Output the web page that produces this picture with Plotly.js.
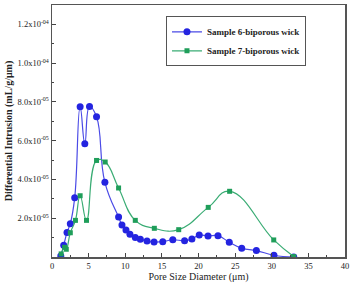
<!DOCTYPE html>
<html>
<head>
<meta charset="utf-8">
<script src="https://cdn.plot.ly/plotly-3.0.1.min.js"></script>
<style>html,body{margin:0;padding:0;background:#fff}#chart{width:352px;height:283px}</style>
</head>
<body>
<div id="chart"></div>
<script>
// Sample 6-biporous wick
const s6Name = "Sample 6-biporous wick";
const s6X = [1.2, 1.6, 2.05, 2.5, 3.1, 3.84, 4.48, 5.12, 6.08, 7.22, 9.09, 9.55, 10.1, 10.64, 11.37, 12.06, 12.97, 13.93, 15.12, 16.49, 18.1, 19.1, 20.1, 21.3, 22.66, 24.2, 25.9, 27.9, 30.3, 33.0];
const s6Y = [0.05e-5, 0.6e-5, 1.27e-5, 1.72e-5, 3.06e-5, 7.75e-5, 5.84e-5, 7.77e-5, 7.23e-5, 3.85e-5, 2.06e-5, 1.65e-5, 1.39e-5, 1.17e-5, 1.0e-5, 0.91e-5, 0.82e-5, 0.77e-5, 0.79e-5, 0.89e-5, 0.84e-5, 0.93e-5, 1.14e-5, 1.08e-5, 1.10e-5, 0.76e-5, 0.45e-5, 0.33e-5, 0.09e-5, 0.0];
// Sample 7-biporous wick
const s7Name = "Sample 7-biporous wick";
const s7X = [1.25, 1.72, 1.95, 2.5, 3.2, 3.84, 4.71, 6.08, 7.26, 9.09, 11.37, 13.97, 17.3, 21.33, 24.25, 30.27, 33.0];
const s7Y = [0.16e-5, 0.5e-5, 0.4e-5, 1.25e-5, 1.89e-5, 3.16e-5, 1.89e-5, 4.98e-5, 4.9e-5, 3.56e-5, 1.89e-5, 1.48e-5, 1.41e-5, 2.56e-5, 3.39e-5, 0.88e-5, 0.02e-5];
// Axis ticks
const yTickVals = [2e-5, 4e-5, 6e-5, 8e-5, 1.0e-4, 1.2e-4];
const yTickText = ["2.0x10<sup>-05</sup>", "4.0x10<sup>-05</sup>", "6.0x10<sup>-05</sup>", "8.0x10<sup>-05</sup>", "1.0x10<sup>-04</sup>", "1.2x10<sup>-04</sup>"];
const xTickVals = [0, 5, 10, 15, 20, 25, 30, 35, 40];

const blue = "#2424e0", blueLine = "#4a4ae6";
const green = "#1f9e5a", greenLine = "#3aac74";
const serif = "Liberation Serif, Times New Roman, serif";

const traces = [
  {x: s6X, y: s6Y, name: s6Name, type: "scatter", mode: "lines+markers",
   line: {color: blueLine, width: 1.2, shape: "spline", smoothing: 1.3},
   marker: {color: blue, size: 7, symbol: "circle"}},
  {x: s7X, y: s7Y, name: s7Name, type: "scatter", mode: "lines+markers",
   line: {color: greenLine, width: 1.2, shape: "spline", smoothing: 1.3},
   marker: {color: green, size: 5, symbol: "square"}}
];

const layout = {
  width: 352, height: 283,
  margin: {l: 52, r: 7, t: 5, b: 26},
  paper_bgcolor: "#fff", plot_bgcolor: "#fff",
  font: {family: serif, color: "#222", size: 8},
  showlegend: true,
  legend: {x: 0.389, y: 0.955, xanchor: "left", yanchor: "top",
    bgcolor: "#fff", bordercolor: "#555", borderwidth: 1,
    font: {family: serif, size: 9, color: "#222", weight: "bold"},
    tracegroupgap: 0},
  xaxis: {range: [0, 40], tickmode: "array", tickvals: xTickVals,
    ticks: "inside", ticklen: 4, tickcolor: "#444",
    minor: {tickmode: "linear", tick0: 0, dtick: 2.5, ticks: "inside", ticklen: 2, tickcolor: "#444"},
    showgrid: false, zeroline: false, showline: true, mirror: true, linecolor: "#555", linewidth: 1.5,
    tickfont: {family: serif, size: 8.5, color: "#222"},
    title: {text: "Pore Size Diameter (\u03bcm)", font: {family: serif, size: 10, color: "#222"}, standoff: 2}},
  yaxis: {range: [0, 1.3e-4], tickmode: "array", tickvals: yTickVals, ticktext: yTickText,
    ticks: "inside", ticklen: 4, tickcolor: "#444",
    minor: {tickmode: "linear", tick0: 0, dtick: 1e-5, ticks: "inside", ticklen: 2, tickcolor: "#444"},
    showgrid: false, zeroline: false, showline: true, mirror: true, linecolor: "#555", linewidth: 1.5,
    tickfont: {family: serif, size: 8.5, color: "#222"},
    title: {text: "Differential Intrusion (mL/g/\u03bcm)", font: {family: serif, size: 10, color: "#222", weight: "bold"}, standoff: 3}}
};

Plotly.newPlot("chart", traces, layout, {displayModeBar: false, staticPlot: true});
</script>
</body>
</html>
